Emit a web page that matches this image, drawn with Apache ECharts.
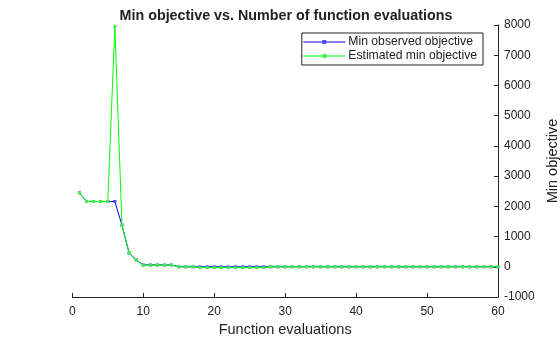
<!DOCTYPE html>
<html>
<head>
<meta charset="utf-8">
<script src="https://cdn.jsdelivr.net/npm/echarts@6/dist/echarts.min.js"></script>
<style>
html,body{margin:0;padding:0;background:#fff;}
#chart{width:560px;height:337px;}
</style>
</head>
<body>
<div id="chart"></div>
<script>
var evaluations = [];
for (var i = 1; i <= 60; i++) evaluations.push(i);
var minObserved = [2450, 2160, 2160, 2160, 2160, 2160, 1380, 460, 230, 60,
  60, 60, 60, 60, 0, 0, 0, 0, 0, 0,
  0, 0, 0, 0, 0, 0, 0, 0, 0, 0,
  0, 0, 0, 0, 0, 0, 0, 0, 0, 0,
  0, 0, 0, 0, 0, 0, 0, 0, 0, 0,
  0, 0, 0, 0, 0, 0, 0, 0, 0, 0];
var estimatedMin = [2450, 2160, 2160, 2160, 2160, 7950, 1380, 460, 230, 45,
  55, 55, 55, 55, 0, 0, 0, -30, -30, -30,
  -30, -30, -30, -30, -30, -30, -30, 0, 0, 0,
  0, 0, 0, 0, 0, 0, 0, 0, 0, 0,
  0, 0, 0, 0, 0, 0, 0, 0, 0, 0,
  0, 0, 0, 0, 0, 0, 0, 0, 0, 0];
var xTicks = [0, 10, 20, 30, 40, 50, 60];
var yTicks = [-1000, 0, 1000, 2000, 3000, 4000, 5000, 6000, 7000, 8000];

var FONT = '"Liberation Sans", Arial, Helvetica, sans-serif';
function pairs(ys) { return evaluations.map(function (x, i) { return [x, ys[i]]; }); }

var chart = echarts.init(document.getElementById('chart'), null, {renderer: 'canvas'});
chart.setOption({
  animation: false,
  backgroundColor: '#fff',
  title: {
    text: 'Min objective vs. Number of function evaluations',
    left: 281, top: 4, textAlign: 'center',
    textStyle: {fontFamily: FONT, fontSize: 14.3, fontWeight: 'bold', color: '#222'}
  },
  legend: {
    right: 77, top: 33,
    orient: 'vertical',
    backgroundColor: '#fff',
    borderColor: '#222', borderWidth: 1,
    padding: [2, 6, 2, 1],
    itemGap: 0,
    itemWidth: 42, itemHeight: 5,
    lineStyle: {width: 1},
    textStyle: {fontFamily: FONT, fontSize: 12.2, color: '#222', padding: [0, 0, 0, -2], lineHeight: 14},
    data: ['Min observed objective', 'Estimated min objective']
  },
  grid: {left: 72.3, right: 62, top: 25, bottom: 40, outerBoundsMode: 'none', containLabel: false},
  xAxis: {
    type: 'value', min: xTicks[0], max: xTicks[xTicks.length - 1], interval: 10,
    name: 'Function evaluations', nameLocation: 'middle', nameGap: 24,
    nameTextStyle: {fontFamily: FONT, fontSize: 14.5, color: '#222'},
    axisLine: {show: true, onZero: false, lineStyle: {color: '#222', width: 1}},
    axisTick: {show: true, inside: true, length: 4, lineStyle: {color: '#222'}},
    axisLabel: {fontFamily: FONT, fontSize: 12, color: '#222', margin: 9},
    splitLine: {show: false}
  },
  yAxis: {
    type: 'value', position: 'right',
    min: yTicks[0], max: yTicks[yTicks.length - 1], interval: 1000,
    name: 'Min objective', nameLocation: 'middle', nameGap: 44, nameRotate: 90,
    nameTextStyle: {fontFamily: FONT, fontSize: 14.5, color: '#222'},
    axisLine: {show: true, onZero: false, lineStyle: {color: '#222', width: 1}},
    axisTick: {show: true, inside: true, length: 4, lineStyle: {color: '#222'}},
    axisLabel: {fontFamily: FONT, fontSize: 12, color: '#222', margin: 6,
      formatter: function (v) { return String(v); }},
    splitLine: {show: false}
  },
  series: [
    {
      name: 'Min observed objective', type: 'line', data: pairs(minObserved),
      color: '#0000ff', symbol: 'rect', symbolSize: 3, showSymbol: true,
      lineStyle: {width: 1, color: '#0000ff'}, itemStyle: {color: '#4a4aff'}, z: 2
    },
    {
      name: 'Estimated min objective', type: 'line', data: pairs(estimatedMin),
      color: '#00ff00', symbol: 'rect', symbolSize: 3, showSymbol: true,
      lineStyle: {width: 1, color: '#00ff00'}, itemStyle: {color: '#44ee44'}, z: 3
    }
  ]
});
</script>
</body>
</html>
